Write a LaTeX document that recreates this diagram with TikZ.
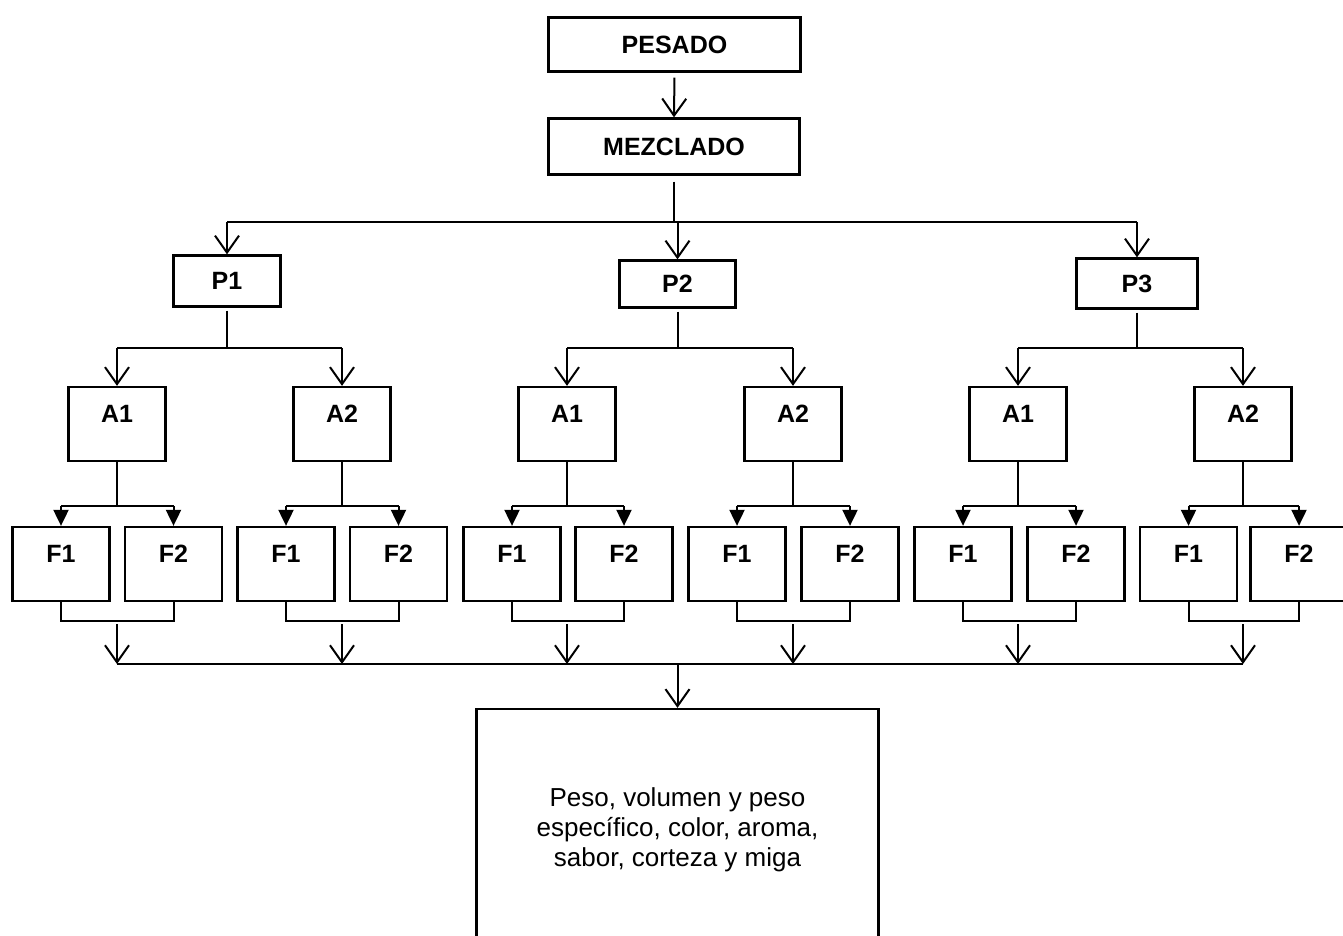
\documentclass[tikz,border=0pt]{standalone}
\usepackage{fontspec}
\setmainfont{Liberation Sans}
\usetikzlibrary{arrows.meta,calc}
\begin{document}
\begin{tikzpicture}[x=1pt,y=-1pt,
  ln/.style={line width=2pt},
  box/.style={draw, line width=2.3pt, inner sep=0pt, font=\bfseries\fontsize{25}{30}\selectfont},
  tbox/.style={box, minimum width=97pt, text height=35pt, text depth=39pt},
  arr/.style={ln, -{Straight Barb[length=17pt,width=24pt,line width=2pt]}},
  tri/.style={ln, -{Triangle[length=16pt,width=15pt]}}
]
\useasboundingbox (0,0) rectangle (1343,936);
\clip (0,0) rectangle (1343,936);

% top boxes
\node[box, minimum width=252pt, minimum height=54pt] (pes) at (674.5,44.5) {PESADO};
\node[box, minimum width=251pt, minimum height=56pt] (mez) at (674,146.5) {MEZCLADO};
\node[box, minimum width=107pt, minimum height=51pt] (p1) at (227,281) {P1};
\node[box, minimum width=116pt, minimum height=47pt] (p2) at (677.5,284) {P2};
\node[box, minimum width=121pt, minimum height=50pt] (p3) at (1137,283.5) {P3};

\draw[arr, shorten <=5pt] (pes.south) -- (mez.north);

\coordinate (jm) at (mez.south |- 0,222);
\draw[ln, shorten <=6pt] (mez.south) -- (jm);
\draw[ln] (p1.north |- jm) -- (p3.north |- jm);
\foreach \p in {p1,p2,p3}{
  \draw[arr] (\p.north |- jm) -- (\p.north);
}

% A boxes, F boxes and their connectors
\foreach \i/\ax/\fa/\fb/\lab in {1/117/61/173.5/A1,2/342/286/398.5/A2,3/567/512/624/A1,4/793/737/850/A2,5/1018/963/1076/A1,6/1243/1188.5/1299/A2}{
  \node[tbox] (a\i) at (\ax,424) {\lab};
  \node[tbox] (f\i a) at (\fa,564) {F1};
  \node[tbox] (f\i b) at (\fb,564) {F2};
  \draw[ln] (a\i.south) -- (a\i.south |- 0,506);
  \draw[ln] (f\i a.north |- 0,506) -- (f\i b.north |- 0,506);
  \draw[tri] (f\i a.north |- 0,506) -- (f\i a.north);
  \draw[tri] (f\i b.north |- 0,506) -- (f\i b.north);
  \draw[ln] (f\i a.south) -- (f\i a.south |- 0,621) -- (f\i b.south |- 0,621) -- (f\i b.south);
  \draw[arr] (a\i.south |- 0,624) -- (a\i.south |- 0,664);
}

% P to A forks
\foreach \p/\l/\r in {p1/a1/a2,p2/a3/a4,p3/a5/a6}{
  \draw[ln, shorten <=3pt] (\p.south) -- (\p.south |- 0,348);
  \draw[ln] (\l.north |- 0,348) -- (\r.north |- 0,348);
  \draw[arr] (\l.north |- 0,348) -- (\l.north);
  \draw[arr] (\r.north |- 0,348) -- (\r.north);
}

% bottom collector and result box
\node[draw, line width=2.3pt, minimum width=402pt, minimum height=241pt, inner sep=0pt, align=center,
      font=\fontsize{26}{30}\selectfont] (out) at (677.5,829.5)
  {Peso, volumen y peso\\específico, color, aroma,\\sabor, corteza y miga};
\draw[ln] (a1.south |- 0,664) -- (a6.south |- 0,664);
\draw[arr] (out.north |- 0,664) -- (out.north);
\end{tikzpicture}
\end{document}
